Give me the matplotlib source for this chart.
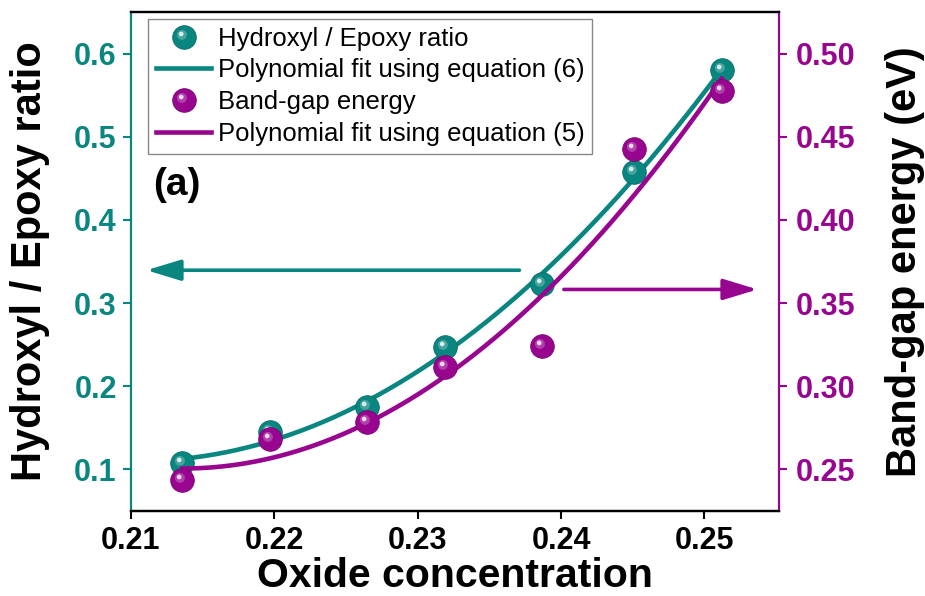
import numpy as np
import matplotlib
matplotlib.use("Agg")
import matplotlib.pyplot as plt
from matplotlib.path import Path

# ---- DATA ----
oxide = [0.2136, 0.2197, 0.2265, 0.2319, 0.2387, 0.2451, 0.2512]
ratio = [0.1075, 0.1447, 0.1754, 0.2473, 0.3231, 0.4581, 0.5799]
gap = [0.2434, 0.2684, 0.2783, 0.3113, 0.3243, 0.4426, 0.4774]

x_ticks = [0.21, 0.22, 0.23, 0.24, 0.25]
x_labels = ["0.21", "0.22", "0.23", "0.24", "0.25"]
left_ticks = [0.1, 0.2, 0.3, 0.4, 0.5, 0.6]
left_labels = ["0.1", "0.2", "0.3", "0.4", "0.5", "0.6"]
right_ticks = [0.25, 0.30, 0.35, 0.40, 0.45, 0.50]
right_labels = ["0.25", "0.30", "0.35", "0.40", "0.45", "0.50"]

TEAL = "#0a8680"
PURPLE = "#98058f"

plt.rcParams["font.family"] = ["Liberation Sans", "DejaVu Sans"]
plt.rcParams["font.weight"] = "bold"


# ---- HELPERS ----
def spot(cx, cy, r):
    # offset circle marker; the two lone corner points keep matplotlib from rescaling it
    circ = Path.circle((cx, cy), r)
    verts = np.vstack([[[-1, -1], [1, 1]], circ.vertices])
    codes = np.concatenate([[Path.MOVETO, Path.MOVETO], circ.codes])
    return Path(verts, codes)


def mix(color, amount):
    c = np.array(matplotlib.colors.to_rgb(color))
    return tuple(c + (1 - c) * amount)


def spheres(ax, x, y, color, ms=17):
    base, = ax.plot(x, y, "o", ms=ms, color=color, mec=tuple(np.array(matplotlib.colors.to_rgb(color)) * 0.8),
                    mew=0.6, ls="none", zorder=5)
    glow, = ax.plot(x, y, marker=spot(-0.22, 0.22, 0.42), ms=ms, ls="none",
                    color=mix(color, 0.35), mew=0, alpha=0.7, zorder=6)
    shine, = ax.plot(x, y, marker=spot(-0.28, 0.3, 0.2), ms=ms, ls="none",
                     color=mix(color, 0.85), mew=0, zorder=7)
    return (base, glow, shine)


# ---- PLOT ----
fig = plt.figure(figsize=(9.25, 5.96), dpi=100)
ax = fig.add_axes([0.1413, 0.1426, 0.7009, 0.8373])
ax2 = ax.twinx()

# polynomial fits of the measured points
xs = np.linspace(oxide[0], oxide[-1], 200)
fit_ratio = np.polyval(np.polyfit(oxide, ratio, 2), xs)
fit_gap = np.polyval(np.polyfit(oxide, gap, 2), xs)

l1, = ax.plot(xs, fit_ratio, color=TEAL, lw=3.3, zorder=3)
h1 = spheres(ax, oxide, ratio, TEAL)
l2, = ax2.plot(xs, fit_gap, color=PURPLE, lw=3.3, zorder=3)
h2 = spheres(ax2, oxide, gap, PURPLE)

ax.set_xlim(0.21, 0.2552)
ax.set_ylim(0.05, 0.65)
ax2.set_ylim(0.225, 0.525)

ax.set_xticks(x_ticks)
ax.set_xticklabels(x_labels)
ax.set_yticks(left_ticks)
ax.set_yticklabels(left_labels)
ax2.set_yticks(right_ticks)
ax2.set_yticklabels(right_labels)

ax.tick_params(axis="x", direction="out", length=6, width=1.5, labelsize=22, pad=5,
               top=False)
ax.tick_params(axis="y", colors=TEAL, direction="out", length=6, width=1.5,
               labelsize=22, pad=4)
ax2.tick_params(axis="y", colors=PURPLE, direction="out", length=6, width=1.5,
                labelsize=22, pad=6)

for s in ["top", "bottom"]:
    ax.spines[s].set_linewidth(1.6)
    ax2.spines[s].set_linewidth(1.6)
ax.spines["left"].set_color(TEAL)
ax.spines["left"].set_linewidth(1.6)
ax2.spines["left"].set_visible(False)
ax.spines["right"].set_visible(False)
ax2.spines["right"].set_color(PURPLE)
ax2.spines["right"].set_linewidth(1.6)

ax.set_xlabel("Oxide concentration", fontsize=29.5, fontweight="bold")
ax.xaxis.label.set_va("center")
ax.xaxis.set_label_coords(0.5, -0.131)
ax.set_ylabel("Hydroxyl / Epoxy ratio", fontsize=30, fontweight="bold")
ax.yaxis.label.set_va("center")
ax.yaxis.set_label_coords(-0.155, 0.5)
ax2.set_ylabel("Band-gap energy (eV)", fontsize=30, fontweight="bold", rotation=90)
ax2.yaxis.label.set_va("center")
ax2.yaxis.set_label_coords(1.194, 0.5)

# direction arrows
ax.annotate("", xy=(0.2111, 0.3395), xytext=(0.2371, 0.3395),
            arrowprops=dict(arrowstyle="-|>,head_length=1.05,head_width=0.32",
                            mutation_scale=20, color=TEAL, lw=2.6,
                            shrinkA=0, shrinkB=0))
ax2.annotate("", xy=(0.2537, 0.3582), xytext=(0.2402, 0.3582),
             arrowprops=dict(arrowstyle="-|>,head_length=1.05,head_width=0.32",
                             mutation_scale=20, color=PURPLE, lw=2.6,
                             shrinkA=0, shrinkB=0))

ax.text(0.21156, 0.4425, "(a)", fontsize=28, fontweight="bold", ha="left", va="center")

leg = ax2.legend([h1, l1, h2, l2],
                 ["Hydroxyl / Epoxy ratio", "Polynomial fit using equation (6)",
                  "Band-gap energy", "Polynomial fit using equation (5)"],
                 loc="upper left", bbox_to_anchor=(0.027, 0.986),
                 prop={"weight": "normal", "size": 18.5}, fancybox=False,
                 edgecolor="#888888", framealpha=1, borderpad=0.3,
                 handlelength=2.15, handletextpad=0.25, labelspacing=0.3,
                 borderaxespad=0)
leg.get_frame().set_linewidth(1.0)

fig.savefig("out.png", dpi=100)
